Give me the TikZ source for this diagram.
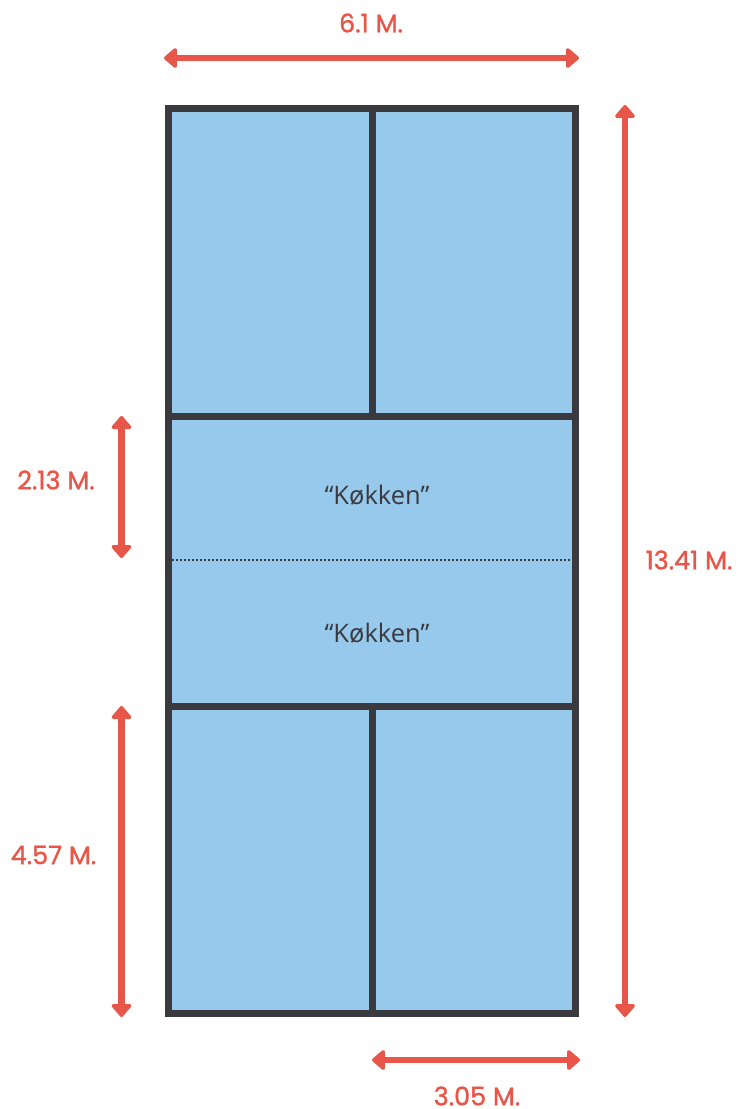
\documentclass[tikz,border=0pt]{standalone}
\usepackage{fontspec}
\newfontface\dimfont{Poppins}[FakeBold=1.2]
\newfontfamily\zonefont{Open Sans}
\usetikzlibrary{arrows.meta}
\definecolor{dimred}{RGB}{231,86,72}
\definecolor{courtblue}{RGB}{150,201,236}
\definecolor{courtline}{RGB}{58,57,62}
\tikzset{
  dimline/.style={draw=dimred,line width=6.5pt,{Triangle[width=23pt,length=14pt,round]}-{Triangle[width=23pt,length=14pt,round]}},
  dimlabel/.style={text=dimred,font=\dimfont\fontsize{25.5}{28}\selectfont,inner sep=0pt},
  zonelabel/.style={text=courtline,font=\zonefont\fontsize{25.5}{28}\selectfont,inner sep=0pt},
  courtedge/.style={draw=courtline,line width=7pt}
}
\begin{document}
\begin{tikzpicture}[x=1pt,y=-1pt]
  \useasboundingbox (0,0) rectangle (737,1109);
  \coordinate (nw) at (168,108);
  \coordinate (se) at (575.5,1013);
  \coordinate (kl1) at (168,416);
  \coordinate (kr1) at (575.5,416);
  \coordinate (kl2) at (168,706);
  \coordinate (kr2) at (575.5,706);
  \coordinate (ct) at (372,108);
  \coordinate (cb) at (372,1013);
  \coordinate (c1) at (372,416);
  \coordinate (c2) at (372,706);
  \coordinate (nl) at (171.5,560);
  \coordinate (nr) at (572,560);
  \fill[courtblue] (nw) rectangle (se);
  \draw[courtline,line width=1.3pt,dash pattern=on 2.2pt off 1.8pt] (nl) -- (nr);
  \begin{scope}[courtedge]
    \draw (ct) -- (c1);
    \draw (c2) -- (cb);
    \draw (kl1) -- (kr1);
    \draw (kl2) -- (kr2);
    \draw[line join=miter] (nw) rectangle (se);
  \end{scope}
  \node[zonelabel] (k1) at (377,495) {“Køkken”};
  \node[zonelabel] (k2) at (377,633) {“Køkken”};
  \coordinate (wa) at (164,58);
  \coordinate (wb) at (579,58);
  \coordinate (la) at (625,105);
  \coordinate (lb) at (625,1017);
  \coordinate (ka) at (121.5,416);
  \coordinate (kb) at (121.5,558);
  \coordinate (ba) at (121.5,706);
  \coordinate (bb) at (121.5,1017);
  \coordinate (ha) at (372,1060);
  \coordinate (hb) at (580,1060);
  \begin{scope}[dimline]
    \draw (wa) -- (wb);
    \draw (la) -- (lb);
    \draw (ka) -- (kb);
    \draw (ba) -- (bb);
    \draw (ha) -- (hb);
  \end{scope}
  \node[dimlabel] (width) at (371,23) {6.1 M.};
  \node[dimlabel] (length) at (689,560) {13.41 M.};
  \node[dimlabel] (kitchen) at (56,480) {2.13 M.};
  \node[dimlabel] (back) at (53.5,855) {4.57 M.};
  \node[dimlabel] (half) at (477,1096) {3.05 M.};
\end{tikzpicture}
\end{document}
